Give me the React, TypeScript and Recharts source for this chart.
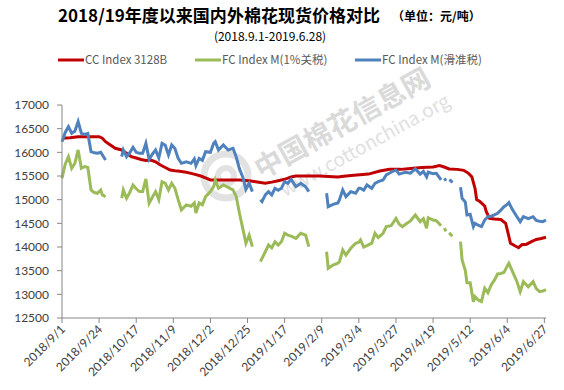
import { Line, LineChart, XAxis, YAxis } from "recharts"

const tickLabels = [
  "2018/9/1", "2018/9/24", "2018/10/17", "2018/11/9", "2018/12/2", "2018/12/25", "2019/1/17",
  "2019/2/9", "2019/3/4", "2019/3/27", "2019/4/19", "2019/5/12", "2019/6/4", "2019/6/27",
]
const start = Date.UTC(2018, 8, 1)
const toDay = (s: string) => {
  const [y, m, d] = s.split("/").map(Number)
  return Math.round((Date.UTC(y, m - 1, d) - start) / 86400000)
}
const tickDays = tickLabels.map(toDay)
const yTicks = [12500, 13000, 13500, 14000, 14500, 15000, 15500, 16000, 16500, 17000]

// CC Index 3128B (days since 2018/9/1)
const ccDay = [
  0, 5, 10, 15, 20, 23, 25, 27, 30, 33, 37, 40, 43, 46, 49, 52, 55, 58, 61, 64, 67, 70, 73, 77, 80,
  83, 86, 89, 92, 98, 105, 110, 116, 120, 126, 130, 134, 138, 142, 145, 154, 160, 165, 171, 176,
  181, 190, 197, 203, 210, 216, 223, 230, 234, 236, 240, 245, 249, 252, 254, 256, 257, 259, 262,
  263, 265, 268, 272, 275, 276, 278, 281, 283, 285, 288, 291, 294, 297, 300,
]
const ccIndex = [
  16300, 16310, 16330, 16330, 16330, 16330, 16300, 16225, 16155, 16085, 16050, 15980, 15908, 15880,
  15850, 15830, 15838, 15800, 15733, 15680, 15627, 15610, 15600, 15580, 15556, 15530, 15500, 15460,
  15416, 15416, 15416, 15416, 15400, 15380, 15346, 15370, 15400, 15430, 15480, 15500, 15500, 15500,
  15490, 15480, 15500, 15515, 15540, 15606, 15640, 15640, 15660, 15680, 15690, 15720, 15700, 15650,
  15640, 15620, 15556, 15485, 15240, 15000, 14960, 14866, 14746, 14606, 14590, 14580, 14500, 14360,
  14078, 14020, 13985, 14050, 14060, 14112, 14160, 14180, 14205,
]

// FC Index M, same dates for both tax bases; null = no quote
const fcDay = [
  0, 2, 4, 6, 8, 10, 12, 14, 16, 18, 20, 22, 24, 25, 27, 32, 37, 38, 40, 42, 44, 46, 48, 50, 52,
  54, 56, 58, 60, 62, 64, 66, 68, 70, 72, 74, 77, 80, 82, 83, 85, 87, 89, 92, 94, 95, 97, 100, 103,
  106, 108, 110, 112, 114, 116, 118, 120, 123, 124, 126, 128, 130, 132, 134, 136, 138, 140, 142,
  145, 148, 151, 153, 158, 164, 165, 168, 171, 172, 174, 176, 179, 182, 184, 185, 187, 189, 192,
  194, 196, 199, 201, 204, 207, 209, 211, 213, 216, 219, 222, 224, 226, 227, 230, 232, 235, 236,
  237, 238, 239, 240, 241, 242, 244, 247, 248, 250, 251, 253, 255, 256, 258, 260, 262, 264, 266,
  268, 270, 272, 274, 276, 277, 279, 282, 284, 286, 289, 292, 294, 296, 298, 300,
]
const fcM1 = [
  15452, 15750, 15908, 15663, 15770, 16050, 15663, 15700, 15680, 15205, 15150, 15135, 15205, 15100,
  15064, null, 15029, 15205, 15029, 15150, 15310, 15230, 15170, 15170, 15437, 14923, 15050, 15170,
  15000, 15380, 15346, 15205, 15346, 15240, 15000, 14782, 14890, 14860, 14930, 14720, 14930, 14890,
  15064, 15170, 15275, 15416, 15240, 15310, 15260, 15205, 15064, 14712, 14400, 14080, 14250, 14007,
  null, 13690, 13760, 13900, 14042, 13980, 14112, 14040, 14112, 14290, 14250, 14230, 14183, 14290,
  14250, 14007, null, 13900, 13550, 13620, 13656, 13690, 13937, 13830, 13972, 14078, 14100, 14148,
  14000, 14030, 14080, 14290, 14200, 14290, 14430, 14450, 14606, 14480, 14430, 14480, 14550, 14676,
  14536, 14600, 14395, 14620, 14570, 14556, 14450, null, 14400, 14330, null, 14300, 14260, 14230,
  null, 14112, 13725, 13500, 13246, 13246, 12845, 12950, 12880, 12845, 13127, 13035, 13197, 13300,
  13430, 13440, 13465, 13600, 13656, 13500, 13267, 13056, 13267, 13160, 13267, 13120, 13056, 13070,
  13100,
]
const fcSlide = [
  16225, 16420, 16542, 16403, 16450, 16648, 16403, 16380, 16400, 16014, 15990, 15980, 16000, 15950,
  15838, null, 15908, 16050, 15908, 15990, 16107, 16000, 15980, 15980, 16190, 15853, 15960, 16050,
  15880, 16190, 16150, 15944, 16155, 16080, 15873, 15768, 15800, 15768, 15860, 15720, 15873, 15830,
  16014, 16000, 16190, 16225, 16050, 16155, 16050, 16085, 15900, 15650, 15480, 15220, 15350, 15170,
  null, 15000, 14960, 15100, 15170, 15100, 15240, 15200, 15240, 15380, 15346, 15430, 15275, 15346,
  15275, 15170, null, 15135, 14852, 14900, 14930, 15000, 15205, 15064, 15170, 15135, 15240, 15240,
  15200, 15310, 15240, 15346, 15380, 15416, 15522, 15580, 15627, 15540, 15560, 15580, 15560, 15650,
  15540, 15600, 15480, 15580, 15550, 15556, 15416, null, 15450, 15400, null, 15420, 15400, 15360,
  null, 15262, 15030, 14950, 14676, 14690, 14430, 14500, 14460, 14430, 14570, 14640, 14650, 14680,
  14712, 14780, 14852, 14900, 14936, 14800, 14640, 14535, 14640, 14600, 14640, 14560, 14545, 14535,
  14570,
]

const ccData = ccDay.map((d, i) => ({ d, v: ccIndex[i] }))
const m1Data = fcDay.map((d, i) => ({ d, v: fcM1[i] }))
const slideData = fcDay.map((d, i) => ({ d, v: fcSlide[i] }))

const font = "Lato, 'Noto Sans CJK SC', sans-serif"
const cjk = "'Noto Sans CJK SC', sans-serif"

function DateTick({ x, y, payload }: any) {
  const label = tickLabels[tickDays.indexOf(payload.value)] ?? ""
  return (
    <text
      x={x + 4}
      y={y + 5}
      textAnchor="end"
      transform={`rotate(-45 ${x + 4} ${y + 5})`}
      fontSize={12}
      fontFamily={font}
      fill="#404040"
    >
      {label}
    </text>
  )
}

const legend = [
  { name: "CC Index 3128B", color: "#C00000", x: 58 },
  { name: "FC Index M(1%关税)", color: "#9BBB59", x: 195 },
  { name: "FC Index M(滑准税)", color: "#4F81BD", x: 355 },
]

export default function App() {
  return (
    <div style={{ position: "relative", width: 564, height: 390, background: "#fff" }}>
      <style>{"body{margin:0}"}</style>
      <svg width={564} height={390} style={{ position: "absolute", left: 0, top: 0 }}>
        <g fill="none" stroke="#e2e2e2">
          <circle cx={226} cy={176} r={22} strokeWidth={7} />
          <circle cx={226} cy={176} r={8} strokeWidth={6} />
        </g>
        <g transform="rotate(-29 330 130)" fontFamily={cjk}>
          <text x={246} y={140} fontSize={28} fontWeight="bold" fill="#dadada">中国棉花信息网</text>
          <text x={258} y={167} fontSize={19} fill="#e0e0e0">www.cottonchina.org</text>
        </g>
      </svg>
      <LineChart
        width={564}
        height={390}
        margin={{ top: 105, right: 18, left: 0, bottom: 0 }}
        style={{ position: "absolute", left: 0, top: 0 }}
      >
        <XAxis
          type="number"
          dataKey="d"
          domain={[0, 300]}
          ticks={tickDays}
          interval={0}
          height={72}
          stroke="#868686"
          tickSize={5}
          tick={<DateTick />}
          allowDuplicatedCategory={false}
        />
        <YAxis
          domain={[12500, 17000]}
          ticks={yTicks}
          interval={0}
          width={62}
          stroke="#868686"
          tickSize={5}
          tickMargin={8}
          tick={{ fontSize: 12, fill: "#404040", fontFamily: font }}
        />
        <Line data={ccData} dataKey="v" stroke="#C00000" strokeWidth={3} dot={false} isAnimationActive={false} />
        <Line data={m1Data} dataKey="v" stroke="#9BBB59" strokeWidth={3} dot={false} isAnimationActive={false} />
        <Line data={slideData} dataKey="v" stroke="#4F81BD" strokeWidth={3} dot={false} isAnimationActive={false} />
      </LineChart>
      <svg width={564} height={80} style={{ position: "absolute", left: 0, top: 0 }}>
        <text
          x={58}
          y={22}
          fontSize={17.5}
          fontWeight="bold"
          fontFamily={cjk}
          fill="#000"
          textLength={322}
          lengthAdjust="spacingAndGlyphs"
        >
          2018/19年度以来国内外棉花现货价格对比
        </text>
        <text x={392} y={21} fontSize={12} fontWeight="bold" fontFamily={cjk} fill="#000">
          （单位：元/吨）
        </text>
        <text x={270} y={41} fontSize={12} textAnchor="middle" fontFamily={cjk} fill="#000">
          (2018.9.1-2019.6.28)
        </text>
        {legend.map((l) => (
          <g key={l.name}>
            <line x1={l.x} x2={l.x + 26} y1={60} y2={60} stroke={l.color} strokeWidth={3} />
            <text x={l.x + 27} y={64} fontSize={11.5} fontFamily={cjk} fill="#595959">
              {l.name}
            </text>
          </g>
        ))}
      </svg>
    </div>
  )
}
